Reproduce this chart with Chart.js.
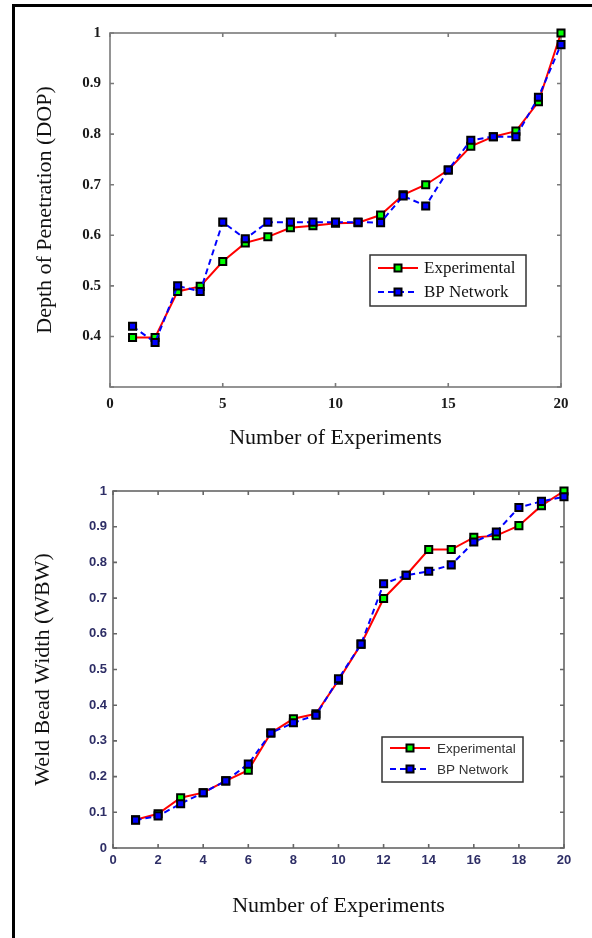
<!DOCTYPE html>
<html lang="en">
<head>
<meta charset="UTF-8">
<title>DOP and WBW: Experimental vs BP Network</title>
<style>
    html, body {
        margin: 0;
        padding: 0;
        background: #fff;
    }
    body {
        width: 592px;
        height: 938px;
        position: relative;
        overflow: hidden;
    }
    .frame {
        position: absolute;
        left: 12px;
        top: 4px;
        width: 620px;
        height: 980px;
        border-top: 3px solid #000;
        border-left: 3px solid #000;
    }
    canvas {
        position: absolute;
        left: 16px;
    }
    #dopChart { top: 8px; }
    #wbwChart { top: 470px; }
</style>
<script src="https://cdn.jsdelivr.net/npm/chart.js"></script>
</head>
<body>
<div class="frame"></div>
<canvas id="dopChart" width="576" height="462"></canvas>
<canvas id="wbwChart" width="576" height="468"></canvas>
<script>
    // experiment number (x values)
    var experiments = [1, 2, 3, 4, 5, 6, 7, 8, 9, 10, 11, 12, 13, 14, 15, 16, 17, 18, 19, 20];

    // Depth of penetration
    var dopExperimental = [0.398, 0.398, 0.489, 0.499, 0.548, 0.585, 0.597, 0.615, 0.619, 0.624,
                           0.625, 0.640, 0.680, 0.700, 0.729, 0.776, 0.795, 0.806, 0.864, 1.000];
    var dopNetwork      = [0.420, 0.388, 0.500, 0.489, 0.626, 0.593, 0.626, 0.626, 0.626, 0.626,
                           0.626, 0.625, 0.678, 0.658, 0.729, 0.788, 0.795, 0.795, 0.873, 0.977];

    // Weld bead width
    var wbwExperimental = [0.079, 0.096, 0.141, 0.155, 0.188, 0.218, 0.322, 0.362, 0.376, 0.470,
                           0.571, 0.699, 0.764, 0.836, 0.836, 0.870, 0.875, 0.903, 0.959, 1.000];
    var wbwNetwork      = [0.078, 0.090, 0.124, 0.155, 0.188, 0.235, 0.322, 0.351, 0.372, 0.474,
                           0.571, 0.740, 0.764, 0.775, 0.793, 0.857, 0.885, 0.954, 0.971, 0.984];

    // ticks
    var dopXTicks = [0, 5, 10, 15, 20];
    var dopYTicks = [0.3, 0.4, 0.5, 0.6, 0.7, 0.8, 0.9, 1];
    var dopYLabels = ['', '0.4', '0.5', '0.6', '0.7', '0.8', '0.9', '1'];
    var wbwXTicks = [0, 2, 4, 6, 8, 10, 12, 14, 16, 18, 20];
    var wbwYTicks = [0, 0.1, 0.2, 0.3, 0.4, 0.5, 0.6, 0.7, 0.8, 0.9, 1];
    var wbwYLabels = ['0', '0.1', '0.2', '0.3', '0.4', '0.5', '0.6', '0.7', '0.8', '0.9', '1'];

    function toPoints(ys) {
        return experiments.map(function (x, i) { return { x: x, y: ys[i] }; });
    }

    // matlab style axes box with inward ticks
    var boxPlugin = {
        id: 'boxTicks',
        beforeDatasetsDraw: function (chart, args, opts) {
            var a = chart.chartArea, ctx = chart.ctx;
            var xs = chart.scales.x, ys = chart.scales.y;
            ctx.save();
            ctx.strokeStyle = opts.color;
            ctx.lineWidth = opts.width;
            ctx.strokeRect(a.left, a.top, a.right - a.left, a.bottom - a.top);
            ctx.beginPath();
            xs.ticks.forEach(function (t) {
                var px = xs.getPixelForValue(t.value);
                ctx.moveTo(px, a.bottom); ctx.lineTo(px, a.bottom - opts.len);
                ctx.moveTo(px, a.top); ctx.lineTo(px, a.top + opts.len);
            });
            ys.ticks.forEach(function (t) {
                var py = ys.getPixelForValue(t.value);
                ctx.moveTo(a.left, py); ctx.lineTo(a.left + opts.len, py);
                ctx.moveTo(a.right, py); ctx.lineTo(a.right - opts.len, py);
            });
            ctx.stroke();
            ctx.restore();
        }
    };

    // boxed legend inside the plot
    var legendPlugin = {
        id: 'boxLegend',
        afterDraw: function (chart, args, o) {
            var ctx = chart.ctx;
            ctx.save();
            ctx.fillStyle = '#fff';
            ctx.fillRect(o.x, o.y, o.w, o.h);
            ctx.strokeStyle = '#333';
            ctx.lineWidth = 1.5;
            ctx.strokeRect(o.x, o.y, o.w, o.h);
            chart.data.datasets.forEach(function (ds, i) {
                var y = o.y + o.rowTop + i * o.rowGap;
                ctx.strokeStyle = ds.borderColor;
                ctx.lineWidth = ds.borderWidth;
                ctx.setLineDash(ds.borderDash || []);
                ctx.beginPath();
                ctx.moveTo(o.x + o.lineFrom, y);
                ctx.lineTo(o.x + o.lineTo, y);
                ctx.stroke();
                ctx.setLineDash([]);
                var mx = o.x + (o.lineFrom + o.lineTo) / 2, s = 3.5;
                ctx.fillStyle = ds.pointBackgroundColor;
                ctx.fillRect(mx - s, y - s, 2 * s, 2 * s);
                ctx.strokeStyle = ds.pointBorderColor;
                ctx.lineWidth = ds.pointBorderWidth;
                ctx.strokeRect(mx - s, y - s, 2 * s, 2 * s);
                ctx.fillStyle = o.color;
                ctx.font = o.font;
                ctx.textBaseline = 'middle';
                ctx.fillText(ds.label, o.x + o.textX, y + 1);
            });
            ctx.restore();
        }
    };

    function makeDatasets(expVals, netVals, radius) {
        return [{
            label: 'Experimental',
            data: toPoints(expVals),
            borderColor: '#ff0000',
            borderWidth: 2,
            pointStyle: 'rect',
            pointRadius: radius,
            pointBackgroundColor: '#00ff00',
            pointBorderColor: '#000',
            pointBorderWidth: 2,
            order: 1,
            clip: false
        }, {
            label: 'BP Network',
            data: toPoints(netVals),
            borderColor: '#0000ff',
            borderWidth: 2,
            borderDash: [6, 4],
            pointStyle: 'rect',
            pointRadius: radius,
            pointBackgroundColor: '#0000ff',
            pointBorderColor: '#000',
            pointBorderWidth: 2,
            order: 0,
            clip: false
        }];
    }

    // Chart 1 - depth of penetration
    new Chart(document.getElementById('dopChart'), {
        type: 'line',
        data: { datasets: makeDatasets(dopExperimental, dopNetwork, 5) },
        plugins: [boxPlugin, legendPlugin],
        options: {
            responsive: false,
            animation: false,
            layout: { padding: { left: 0, right: 31, top: 25, bottom: 0 } },
            scales: {
                x: {
                    type: 'linear', min: 0, max: 20,
                    grid: { display: false, drawTicks: false },
                    border: { display: false },
                    afterBuildTicks: function (s) { s.ticks = dopXTicks.map(function (v) { return { value: v }; }); },
                    afterFit: function (s) { s.height = 83; },
                    ticks: {
                        padding: 8, maxRotation: 0, autoSkip: false, color: '#1a1a1a',
                        font: { family: 'Liberation Serif', size: 15, weight: 'bold' }
                    },
                    title: {
                        display: true, text: 'Number of Experiments', color: '#111',
                        font: { family: 'Liberation Serif', size: 22 }, padding: { top: 0, bottom: 19 }
                    }
                },
                y: {
                    type: 'linear', min: 0.3, max: 1,
                    grid: { display: false, drawTicks: false },
                    border: { display: false },
                    afterBuildTicks: function (s) { s.ticks = dopYTicks.map(function (v) { return { value: v }; }); },
                    afterFit: function (s) { s.width = 94; },
                    ticks: {
                        padding: 9, color: '#1a1a1a',
                        font: { family: 'Liberation Serif', size: 15, weight: 'bold' },
                        callback: function (v, i) { return dopYLabels[i]; }
                    },
                    title: {
                        display: true, text: 'Depth of Penetration (DOP)', color: '#111',
                        font: { family: 'Liberation Serif', size: 22 }, padding: { top: 16, bottom: 0 }
                    }
                }
            },
            plugins: {
                legend: { display: false },
                tooltip: { enabled: false },
                boxTicks: { color: '#7a7a7a', width: 1.6, len: 4 },
                boxLegend: {
                    x: 354, y: 247, w: 156, h: 51, rowTop: 13, rowGap: 24,
                    lineFrom: 8, lineTo: 48, textX: 54,
                    color: '#111', font: '17px "Liberation Serif"'
                }
            }
        }
    });

    // Chart 2 - weld bead width
    new Chart(document.getElementById('wbwChart'), {
        type: 'line',
        data: { datasets: makeDatasets(wbwExperimental, wbwNetwork, 5) },
        plugins: [boxPlugin, legendPlugin],
        options: {
            responsive: false,
            animation: false,
            layout: { padding: { left: 0, right: 28, top: 21, bottom: 0 } },
            scales: {
                x: {
                    type: 'linear', min: 0, max: 20,
                    grid: { display: false, drawTicks: false },
                    border: { display: false },
                    afterBuildTicks: function (s) { s.ticks = wbwXTicks.map(function (v) { return { value: v }; }); },
                    afterFit: function (s) { s.height = 90; },
                    ticks: {
                        padding: 5, maxRotation: 0, autoSkip: false, color: '#2e2e66',
                        font: { family: 'Liberation Sans', size: 13, weight: 'bold' }
                    },
                    title: {
                        display: true, text: 'Number of Experiments', color: '#111',
                        font: { family: 'Liberation Serif', size: 22 }, padding: { top: 0, bottom: 19 }
                    }
                },
                y: {
                    type: 'linear', min: 0, max: 1,
                    grid: { display: false, drawTicks: false },
                    border: { display: false },
                    afterBuildTicks: function (s) { s.ticks = wbwYTicks.map(function (v) { return { value: v }; }); },
                    afterFit: function (s) { s.width = 97; },
                    ticks: {
                        padding: 6, color: '#2e2e66',
                        font: { family: 'Liberation Sans', size: 13, weight: 'bold' },
                        callback: function (v, i) { return wbwYLabels[i]; }
                    },
                    title: {
                        display: true, text: 'Weld Bead Width (WBW)', color: '#111',
                        font: { family: 'Liberation Serif', size: 22 }, padding: { top: 14, bottom: 0 }
                    }
                }
            },
            plugins: {
                legend: { display: false },
                tooltip: { enabled: false },
                boxTicks: { color: '#666', width: 1.6, len: 4 },
                boxLegend: {
                    x: 366, y: 267, w: 141, h: 45, rowTop: 11, rowGap: 21,
                    lineFrom: 8, lineTo: 48, textX: 55,
                    color: '#333', font: '13.5px "Liberation Sans"'
                }
            }
        }
    });
</script>
</body>
</html>
